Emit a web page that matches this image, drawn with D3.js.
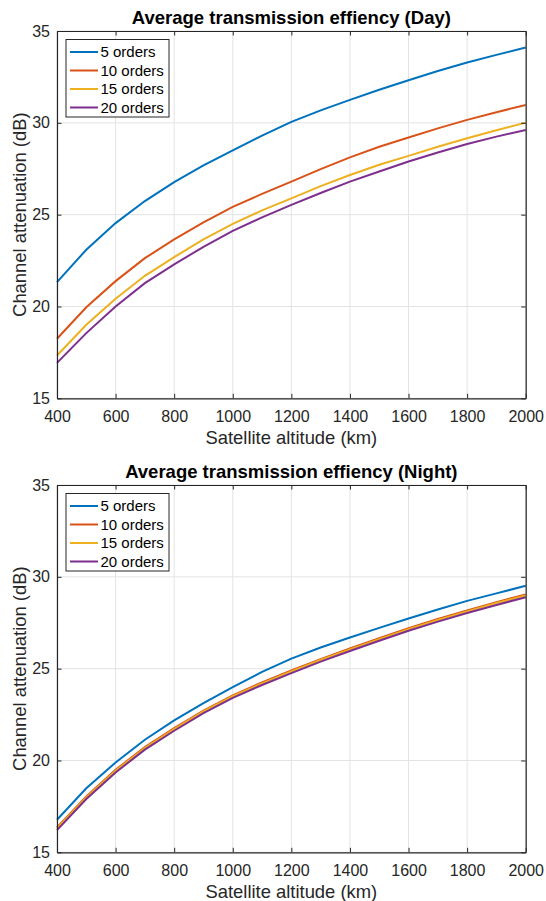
<!DOCTYPE html>
<html><head><meta charset="utf-8">
<script src="https://cdn.jsdelivr.net/npm/d3@7/dist/d3.min.js"></script>
<style>
body{margin:0;background:#fff;}
svg{display:block;font-family:"Liberation Sans",Arial,Helvetica,sans-serif;}
</style></head>
<body><svg id="c" width="546" height="901"></svg>
<script>
const altitudes = [400,500,600,700,800,900,1000,1100,1200,1300,1400,1500,1600,1700,1800,1900,2000];
const seriesNames = ["5 orders","10 orders","15 orders","20 orders"];
const seriesColors = ["#0072BD","#D95319","#EDB120","#7E2F8E"];
const xTicks = [400,600,800,1000,1200,1400,1600,1800,2000];
const yTicks = [15,20,25,30,35];

const day5  = [21.33,23.09,24.54,25.74,26.77,27.68,28.50,29.30,30.05,30.68,31.25,31.80,32.32,32.82,33.28,33.70,34.10];
const day10 = [18.24,19.96,21.38,22.63,23.65,24.58,25.42,26.13,26.80,27.48,28.12,28.70,29.20,29.70,30.16,30.58,30.97];
const day15 = [17.33,19.00,20.42,21.67,22.69,23.65,24.50,25.23,25.89,26.55,27.16,27.72,28.20,28.70,29.16,29.60,30.01];
const day20 = [16.93,18.55,20.00,21.27,22.29,23.25,24.12,24.85,25.53,26.18,26.80,27.35,27.89,28.38,28.85,29.25,29.61];

const night5  = [16.77,18.49,19.89,21.13,22.18,23.12,24.00,24.82,25.55,26.15,26.70,27.22,27.73,28.22,28.69,29.10,29.51];
const night10 = [16.35,18.04,19.49,20.73,21.76,22.72,23.55,24.25,24.90,25.52,26.10,26.66,27.20,27.70,28.17,28.62,29.04];
const night15 = [16.30,17.99,19.44,20.68,21.71,22.67,23.50,24.20,24.85,25.47,26.05,26.61,27.15,27.65,28.12,28.57,28.98];
const night20 = [16.21,17.90,19.35,20.59,21.62,22.58,23.41,24.11,24.76,25.38,25.96,26.52,27.06,27.56,28.03,28.47,28.89];

const panels = [
  {title:"Average transmission effiency (Day)", series:[day5,day10,day15,day20], top:31},
  {title:"Average transmission effiency (Night)", series:[night5,night10,night15,night20], top:485}
];

const svg = d3.select("#c");
const left = 57, right = 525.7, h = 367.3;
const axisColor = "#262626";
const tickLen = 4.5;

panels.forEach(p=>{
  const top = p.top, bottom = top + h;
  const x = d3.scaleLinear().domain([400,2000]).range([left,right]);
  const y = d3.scaleLinear().domain([15,35]).range([bottom,top]);
  const g = svg.append("g");

  // grid
  g.append("g").selectAll("line").data(xTicks).join("line")
    .attr("x1",d=>x(d)).attr("x2",d=>x(d)).attr("y1",top).attr("y2",bottom)
    .attr("stroke","#e3e3e3").attr("stroke-width",1);
  g.append("g").selectAll("line").data(yTicks).join("line")
    .attr("y1",d=>y(d)).attr("y2",d=>y(d)).attr("x1",left).attr("x2",right)
    .attr("stroke","#e3e3e3").attr("stroke-width",1);

  // lines
  const line = d3.line().x((d,i)=>x(altitudes[i])).y(d=>y(d));
  p.series.forEach((s,i)=>{
    g.append("path").datum(s).attr("d",line).attr("fill","none")
      .attr("stroke",seriesColors[i]).attr("stroke-width",2);
  });

  // axes
  const styleAxis = sel=>{
    sel.select(".domain").attr("stroke",axisColor).attr("stroke-width",1.2);
    sel.selectAll(".tick line").attr("stroke",axisColor).attr("stroke-width",1);
    sel.selectAll("text").attr("fill",axisColor).attr("font-size",16)
      .attr("font-family",'"Liberation Sans",Arial,sans-serif');
  };
  g.append("g").attr("transform",`translate(0,${bottom})`)
    .call(d3.axisBottom(x).tickValues(xTicks).tickSizeInner(-tickLen).tickSizeOuter(0).tickPadding(12).tickFormat(d3.format("d")))
    .call(styleAxis);
  g.append("g").attr("transform",`translate(0,${top})`)
    .call(d3.axisTop(x).tickValues(xTicks).tickSizeInner(-tickLen).tickSizeOuter(0).tickFormat(""))
    .call(styleAxis);
  g.append("g").attr("transform",`translate(${left},0)`)
    .call(d3.axisLeft(y).tickValues(yTicks).tickSizeInner(-tickLen).tickSizeOuter(0).tickPadding(7).tickFormat(d3.format("d")))
    .call(styleAxis);
  g.append("g").attr("transform",`translate(${right},0)`)
    .call(d3.axisRight(y).tickValues(yTicks).tickSizeInner(-tickLen).tickSizeOuter(0).tickFormat(""))
    .call(styleAxis);

  // title
  g.append("text").attr("x",(left+right)/2).attr("y",top-7)
    .attr("text-anchor","middle").attr("font-weight","bold").attr("font-size",18.5)
    .attr("fill","#000").text(p.title);
  // x label
  g.append("text").attr("x",(left+right)/2).attr("y",bottom+46)
    .attr("text-anchor","middle").attr("font-size",18.4).attr("fill",axisColor)
    .text("Satellite altitude (km)");
  // y label
  g.append("text").attr("transform",`translate(25.5,${(top+bottom)/2}) rotate(-90)`)
    .attr("text-anchor","middle").attr("font-size",18.4).attr("fill",axisColor)
    .text("Channel attenuation (dB)");

  // legend
  const lx = 66, ly = top+8.5, lw = 103, lh = 77.5;
  const lg = g.append("g");
  lg.append("rect").attr("x",lx).attr("y",ly).attr("width",lw).attr("height",lh)
    .attr("fill","#fff").attr("stroke",axisColor).attr("stroke-width",1);
  seriesNames.forEach((n,i)=>{
    const yy = ly + 12.5 + i*18.5;
    lg.append("line").attr("x1",lx+4).attr("x2",lx+32).attr("y1",yy).attr("y2",yy)
      .attr("stroke",seriesColors[i]).attr("stroke-width",2);
    lg.append("text").attr("x",lx+34.5).attr("y",yy+5.3).attr("font-size",15)
      .attr("fill","#000").text(n);
  });
});
</script>
</body></html>
